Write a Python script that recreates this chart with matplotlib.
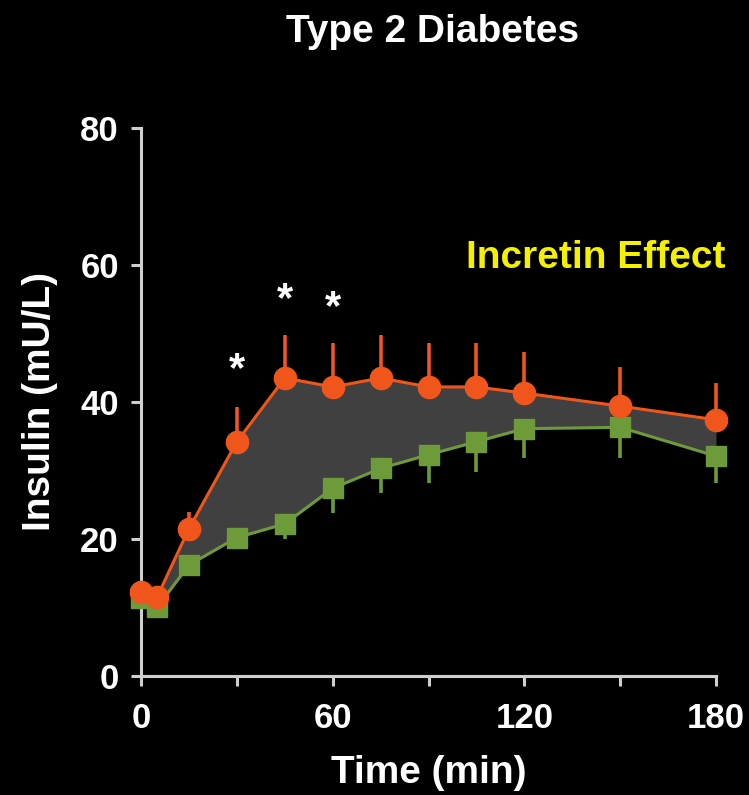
import matplotlib
matplotlib.use("Agg")
import matplotlib.pyplot as plt
from matplotlib.ticker import MultipleLocator

# Sampling times (min) and insulin responses (mU/L)
time_min = [0, 5, 15, 30, 45, 60, 75, 90, 105, 120, 150, 180]
oral_insulin = [12.2, 11.5, 21.5, 34.2, 43.5, 42.2, 43.5, 42.2, 42.2, 41.3, 39.4, 37.4]
oral_err_up = [0.0, 0.0, 2.5, 5.1, 6.3, 6.4, 6.3, 6.4, 6.4, 6.0, 5.7, 5.4]
iv_insulin = [11.4, 10.0, 16.2, 20.2, 22.2, 27.4, 30.3, 32.3, 34.2, 36.1, 36.3, 32.1]
iv_err_down = [0.0, 0.0, 0.0, 1.5, 2.2, 3.6, 3.6, 4.1, 4.4, 4.3, 4.5, 3.9]

# Significance markers
star_x = [30, 45, 60]
star_y = [45.9, 56.1, 54.9]

x_ticks = [0, 60, 120, 180]
y_ticks = [0, 20, 40, 60, 80]

ORANGE = "#f0561c"
GREEN = "#6e9b3a"
FILL = "#404040"
AXIS = "#cfcfcf"

plt.rcParams["font.family"] = ["Liberation Sans", "DejaVu Sans"]
plt.rcParams["font.weight"] = "bold"

fig = plt.figure(figsize=(7.49, 7.95), dpi=100, facecolor="black")
ax = fig.add_axes([0.1883, 0.1497, 0.7677, 0.6893], facecolor="black")

ax.fill_between(time_min, iv_insulin, oral_insulin, color=FILL, lw=0, zorder=1)

ax.errorbar(time_min, iv_insulin, yerr=[iv_err_down, [0] * len(iv_err_down)],
            fmt="none", ecolor=GREEN, elinewidth=2.6, capsize=0, zorder=2, clip_on=False)
ax.plot(time_min, iv_insulin, color=GREEN, lw=2.2, marker="s", ms=15,
        mfc=GREEN, mec=GREEN, zorder=3, clip_on=False)

ax.errorbar(time_min, oral_insulin, yerr=[[0] * len(oral_err_up), oral_err_up],
            fmt="none", ecolor=ORANGE, elinewidth=2.6, capsize=0, zorder=4, clip_on=False)
ax.plot(time_min, oral_insulin, color=ORANGE, lw=2.2, marker="o", ms=16,
        mfc=ORANGE, mec=ORANGE, zorder=5, clip_on=False)

for sx, sy in zip(star_x, star_y):
    ax.text(sx, sy - 1.2, "*", color="white", fontsize=30, ha="center", va="center",
            fontweight="bold", zorder=6)

ax.text(183, 61, "Incretin Effect", color="#f4f000", fontsize=28,
        fontweight="bold", ha="right", va="center")

ax.set_xlim(0, 180)
ax.set_ylim(0, 80)
ax.set_xticks(x_ticks)
ax.set_yticks(y_ticks)
ax.xaxis.set_minor_locator(MultipleLocator(30))

for side in ("top", "right"):
    ax.spines[side].set_visible(False)
for side in ("left", "bottom"):
    ax.spines[side].set_color(AXIS)
    ax.spines[side].set_linewidth(2.2)

ax.tick_params(axis="both", which="both", colors=AXIS, width=2.2, length=7,
               direction="out")
ax.tick_params(axis="both", which="major", labelcolor="white", labelsize=25)
ax.tick_params(axis="y", which="major", pad=9)
ax.tick_params(axis="x", which="major", pad=12)

ax.set_xlabel("Time (min)", color="white", fontsize=28, fontweight="bold", labelpad=14)
ax.set_ylabel("Insulin (mU/L)", color="white", fontsize=28, fontweight="bold", labelpad=16)
fig.suptitle("Type 2 Diabetes", color="white", fontsize=28, fontweight="bold",
             x=0.578, y=0.982, va="top")

fig.savefig("out.png", dpi=100, facecolor="black")
